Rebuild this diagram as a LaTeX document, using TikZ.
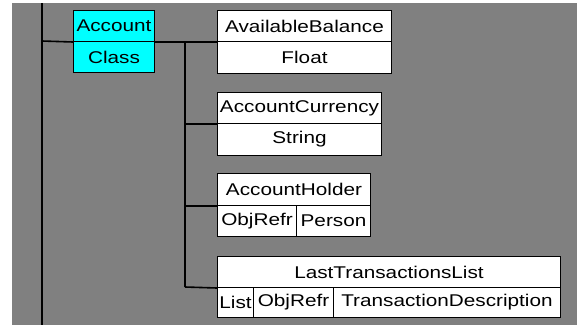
\documentclass[tikz,border=0pt]{standalone}
\usepackage{fontspec}
\setmainfont[FakeStretch=1.22]{Liberation Sans}
\definecolor{panelgray}{RGB}{128,128,128}
\definecolor{classcyan}{RGB}{0,255,255}
\tikzset{
  cell/.style={draw=black,line width=1pt,fill=white,anchor=north west,
    inner sep=0pt,font=\fontsize{17}{19}\selectfont},
  classcell/.style={cell,fill=classcyan},
  wire/.style={black,line width=1.6pt}
}

\begin{document}
\begin{tikzpicture}[x=1pt,y=-1pt]
  \useasboundingbox (0,0) rectangle (577,325);
  \fill[panelgray] (12,3) rectangle (577,325);

  % class box
  \node[classcell,minimum width=81pt,minimum height=31pt] (acc) at (73,10) {Account};
  \node[classcell,minimum width=81pt,minimum height=31pt] (cls) at (73,41) {Class};

  % attribute boxes
  \node[cell,minimum width=174pt,minimum height=31pt] (avb) at (217,10) {AvailableBalance};
  \node[cell,minimum width=174pt,minimum height=32pt] (flt) at (217,41) {Float};

  \node[cell,minimum width=164pt,minimum height=31pt] (cur) at (217,92) {AccountCurrency};
  \node[cell,minimum width=164pt,minimum height=32pt] (str) at (217,123) {String};

  \node[cell,minimum width=153pt,minimum height=32pt] (hld) at (217,173) {AccountHolder};
  \node[cell,minimum width=79pt,minimum height=31pt] (hldref) at (217,205) {ObjRefr};
  \node[cell,minimum width=74pt,minimum height=31pt] (hldper) at (296,205) {Person};

  \node[cell,minimum width=343pt,minimum height=31pt] (ltl) at (217,256) {LastTransactionsList};
  \node[cell,minimum width=36pt,minimum height=30pt] (ltllst) at (217,287) {List};
  \node[cell,minimum width=80pt,minimum height=30pt] (ltlref) at (253,287) {ObjRefr};
  \node[cell,minimum width=227pt,minimum height=30pt] (ltldsc) at (333,287) {TransactionDescription};

  % tree lines
  \coordinate (trunktop) at (42,3);
  \coordinate (trunkbot) at (42,325);
  \coordinate (trunkjoin) at (42,41);
  \coordinate (branchtop) at (185,41);
  \coordinate (branchbot) at (185,287);
  \draw[wire] (trunktop) -- (trunkbot);
  \draw[wire] (trunkjoin) -- (acc.south west);
  \draw[wire] (acc.south east) -- (avb.south west);
  \draw[wire] (branchtop) -- (branchbot);
  \draw[wire] (branchtop |- cur.south west) -- (cur.south west);
  \draw[wire] (branchtop |- hld.south west) -- (hld.south west);
  \draw[wire] (branchbot) -- (ltl.south west);
\end{tikzpicture}
\end{document}
